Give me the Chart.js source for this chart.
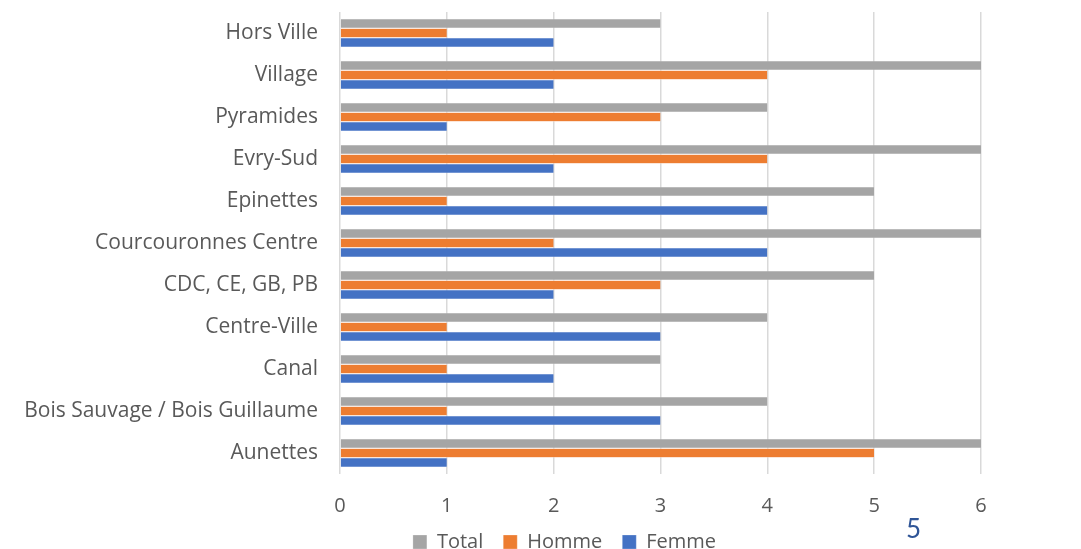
<!DOCTYPE html>
<html><head><meta charset="utf-8">
<script src="https://cdn.jsdelivr.net/npm/chart.js@4/dist/chart.umd.min.js"></script>
<style>
html,body{margin:0;padding:0;background:#fff;}
#wrap{position:relative;width:1081px;height:549px;}
#page{position:absolute;left:906px;top:512px;font-family:Lato,sans-serif;font-size:26px;color:#2F5597;}
</style></head><body>
<div id="wrap"><canvas id="c" width="1081" height="549"></canvas><div id="page">5</div></div>
<script>
const categories = ["Hors Ville","Village","Pyramides","Evry-Sud","Epinettes","Courcouronnes Centre","CDC, CE, GB, PB","Centre-Ville","Canal","Bois Sauvage / Bois Guillaume","Aunettes"];
const totalValues = [3,6,4,6,5,6,5,4,3,4,6];
const hommeValues = [1,4,3,4,1,2,3,1,1,1,5];
const femmeValues = [2,2,1,2,4,4,2,3,2,3,1];
const xTicks = [0,1,2,3,4,5,6];

const FONT = 'Open Sans';
const legendShift = {
  id: 'legendShift',
  afterLayout(chart) {
    const l = chart.legend;
    if (l) { l.left += 74; l.right += 74; }
  }
};
const bw = {top:0.5,bottom:0.5,left:0,right:0};
const ctx = document.getElementById('c');
new Chart(ctx, {
  type: 'bar',
  data: {
    labels: categories,
    datasets: [
      {label:'Total', data: totalValues, backgroundColor:'#A5A5A5', borderColor:'#ffffff', borderWidth:bw, borderSkipped:false},
      {label:'Homme', data: hommeValues, backgroundColor:'#ED7D31', borderColor:'#ffffff', borderWidth:bw, borderSkipped:false},
      {label:'Femme', data: femmeValues, backgroundColor:'#4472C4', borderColor:'#ffffff', borderWidth:bw, borderSkipped:false}
    ]
  },
  plugins: [legendShift],
  options: {
    indexAxis: 'y',
    responsive: false,
    animation: false,
    layout: {padding: {left: 0, right: 100, top: 12, bottom: -13}},
    datasets: {bar: {categoryPercentage: 0.68, barPercentage: 1.0}},
    scales: {
      x: {
        min: 0, max: 6,
        afterBuildTicks: (s) => { s.ticks = xTicks.map(v => ({value: v})); },
        afterFit: (s) => { s.height = 38; },
        grid: {color:'#D9D9D9', lineWidth: 1.5, drawTicks: false},
        border: {display: false},
        ticks: {color:'#595959', font:{family:FONT, size:20}, padding: 20}
      },
      y: {
        afterFit: (s) => { s.width = 340; s.paddingTop = 0; s.paddingBottom = 0; },
        grid: {display: false, drawTicks: false},
        border: {display: false},
        ticks: {color:'#595959', font:{family:FONT, size:21}, padding: 22}
      }
    },
    plugins: {
      legend: {
        position: 'bottom',
        labels: {color:'#595959', font:{family:FONT, size:20}, boxWidth:14, boxHeight:14, padding: 20}
      },
      tooltip: {enabled: false}
    }
  }
});
</script>
</body></html>
